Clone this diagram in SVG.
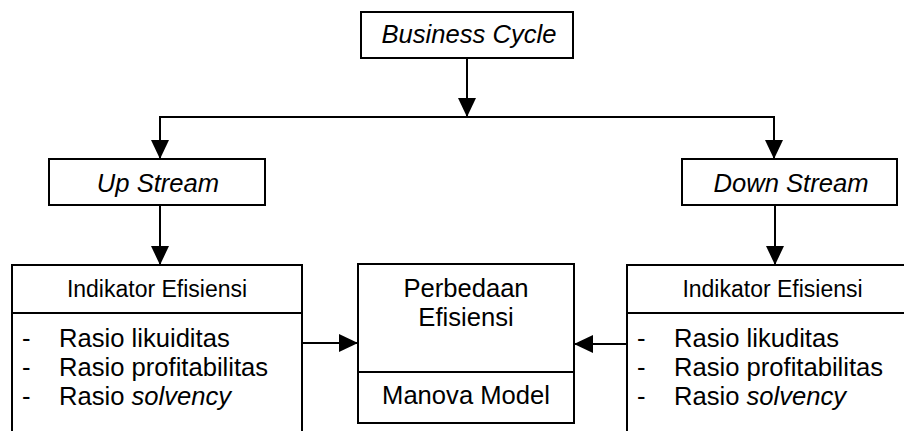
<svg xmlns="http://www.w3.org/2000/svg" width="904" height="431" viewBox="0 0 904 431">
<style>
.box{fill:#fff;stroke:#000;stroke-width:2}
.ln{fill:none;stroke:#000;stroke-width:2}
.t{font-family:"Liberation Sans",Arial,sans-serif;font-size:25.6px;fill:#000}
.s{font-size:23px}
.i{font-style:italic}
.m{text-anchor:middle}
</style>
<defs>
<marker id="ah" markerUnits="userSpaceOnUse" markerWidth="20" markerHeight="20" refX="19" refY="9" orient="auto">
<path d="M0,0 L19,9 L0,18 z" fill="#000"/>
</marker>
</defs>
<g id="connectors">
<path class="ln" d="M467,58 V117" marker-end="url(#ah)"/>
<path class="ln" d="M160,159 V117 H774 V159" marker-end="url(#ah)"/>
<path class="ln" d="M160,117 V159" marker-end="url(#ah)"/>
<path class="ln" d="M160,205 V265" marker-end="url(#ah)"/>
<path class="ln" d="M775,205 V265" marker-end="url(#ah)"/>
<path class="ln" d="M302,343 H358" marker-end="url(#ah)"/>
<path class="ln" d="M627,344 H574" marker-end="url(#ah)"/>
</g>
<g id="business-cycle">
<rect class="box" x="361" y="12" width="212" height="46"/>
<text class="t i m" x="469" y="43">Business Cycle</text>
</g>
<g id="up-stream">
<rect class="box" x="49" y="159" width="216" height="46"/>
<text class="t i m" x="158" y="192">Up Stream</text>
</g>
<g id="down-stream">
<rect class="box" x="682" y="159" width="215" height="46"/>
<text class="t i m" x="791" y="192">Down Stream</text>
</g>
<g id="indikator-left">
<rect class="box" x="12" y="265" width="290" height="180"/>
<line class="ln" x1="12" y1="313" x2="302" y2="313"/>
<text class="t s m" x="157" y="297">Indikator Efisiensi</text>
<text class="t" x="22" y="347">-</text>
<text class="t" x="59" y="347">Rasio likuiditas</text>
<text class="t" x="22" y="376">-</text>
<text class="t" x="59" y="376">Rasio profitabilitas</text>
<text class="t" x="22" y="405">-</text>
<text class="t" x="59" y="405">Rasio <tspan class="i">solvency</tspan></text>
</g>
<g id="perbedaan">
<rect class="box" x="358" y="264" width="216" height="159"/>
<line class="ln" x1="358" y1="372" x2="574" y2="372"/>
<text class="t m" x="466" y="297">Perbedaan</text>
<text class="t m" x="466" y="326">Efisiensi</text>
<text class="t m" x="466" y="404">Manova Model</text>
</g>
<g id="indikator-right">
<rect class="box" x="627" y="265" width="291" height="180"/>
<line class="ln" x1="627" y1="313" x2="918" y2="313"/>
<text class="t s m" x="772.5" y="297">Indikator Efisiensi</text>
<text class="t" x="637" y="347">-</text>
<text class="t" x="674" y="347">Rasio likuditas</text>
<text class="t" x="637" y="376">-</text>
<text class="t" x="674" y="376">Rasio profitabilitas</text>
<text class="t" x="637" y="405">-</text>
<text class="t" x="674" y="405">Rasio <tspan class="i">solvency</tspan></text>
</g>
</svg>
